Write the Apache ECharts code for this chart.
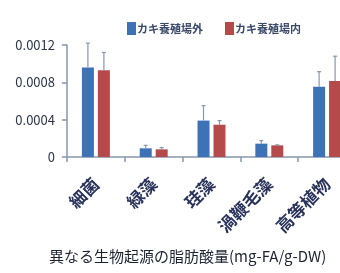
<!DOCTYPE html>
<html>
<head>
<meta charset="utf-8">
<script src="https://cdn.jsdelivr.net/npm/echarts@6/dist/echarts.min.js"></script>
<style>
html, body { margin: 0; padding: 0; background: #fff; }
#chartmain { width: 340px; height: 273px; }
</style>
</head>
<body>
<div id="chartmain"></div>
<script>
var categories = ['細菌', '緑藻', '珪藻', '渦鞭毛藻', '高等植物'];
var outsideVals = [0.00096, 0.000093, 0.00039, 0.000143, 0.000753];
var outsideErrTop = [0.00122, 0.000125, 0.00055, 0.000176, 0.000914];
var insideVals = [0.00093, 0.000082, 0.000346, 0.000125, 0.000814];
var insideErrTop = [0.00112, 0.0001, 0.00039, 0.00013, 0.00108];
var yTicks = [0, 0.0004, 0.0008, 0.0012];

var blue = '#3d72b7';
var red = '#b54a4b';
var font = '"Noto Sans CJK JP", "Noto Sans", sans-serif';

// エラーバー（上側のみ）
function errorSeries(name, vals, tops, offset) {
	var data = [];
	for (var i = 0; i < vals.length; i++) {
		data.push([i, vals[i], tops[i]]);
	}
	return {
		name : name,
		type : 'custom',
		silent : true,
		z : 3,
		data : data,
		renderItem : function(params, api) {
			var base = api.coord([api.value(0), api.value(1)]);
			var top = api.coord([api.value(0), api.value(2)]);
			var x = base[0] + offset;
			var style = { stroke : '#8796ad', lineWidth : 1.2 };
			return {
				type : 'group',
				children : [ {
					type : 'line',
					shape : { x1 : x, y1 : base[1], x2 : x, y2 : top[1] },
					style : style
				}, {
					type : 'line',
					shape : { x1 : x - 2, y1 : top[1], x2 : x + 2, y2 : top[1] },
					style : style
				} ]
			};
		}
	};
}

var option = {
	animation : false,
	backgroundColor : '#fff',
	legend : {
		data : ['カキ養殖場外', 'カキ養殖場内'],
		left : 122,
		top : 17,
		itemWidth : 9,
		itemHeight : 13,
		itemGap : 22,
		icon : 'rect',
		textStyle : {
			fontFamily : font,
			fontSize : 11,
			fontWeight : 'bold',
			color : '#3b4a6b',
			padding : [0, 0, 0, -4]
		}
	},
	title : {
		text : '異なる生物起源の脂肪酸量(mg-FA/g-DW)',
		left : 44,
		bottom : 4,
		textStyle : {
			fontFamily : font,
			fontSize : 15,
			fontWeight : 'normal',
			color : '#1c2230'
		}
	},
	grid : {
		left : 67,
		right : -16,
		top : 45,
		bottom : 116,
		containLabel : false,
		outerBoundsMode : 'none'
	},
	xAxis : {
		type : 'category',
		data : categories,
		axisLine : { lineStyle : { color : '#8796ad', width : 1.5 } },
		axisTick : { show : true, length : 5, lineStyle : { color : '#8796ad', width : 1.5 } },
		axisLabel : {
			rotate : 45,
			margin : 24,
			fontFamily : font,
			fontSize : 17,
			fontWeight : 'bold',
			color : '#28325a'
		}
	},
	yAxis : {
		type : 'value',
		min : 0,
		max : yTicks[yTicks.length - 1],
		interval : 0.0004,
		splitLine : { show : false },
		axisLine : { show : true, lineStyle : { color : '#8796ad', width : 1.5 } },
		axisTick : { show : true, length : 5, lineStyle : { color : '#8796ad', width : 1.5 } },
		axisLabel : {
			margin : 12,
			fontFamily : font,
			fontSize : 13,
			color : '#2c3547',
			formatter : function(v) {
				return v === 0 ? '0' : v.toFixed(4);
			}
		}
	},
	series : [ {
		name : 'カキ養殖場外',
		type : 'bar',
		data : outsideVals,
		barWidth : 12,
		barGap : '33%',
		itemStyle : { color : blue }
	}, {
		name : 'カキ養殖場内',
		type : 'bar',
		data : insideVals,
		barWidth : 12,
		barGap : '33%',
		itemStyle : { color : red }
	},
	errorSeries('err1', outsideVals, outsideErrTop, -8),
	errorSeries('err2', insideVals, insideErrTop, 8) ]
};

var myChart = echarts.init(document.getElementById('chartmain'));
myChart.setOption(option);
</script>
</body>
</html>
